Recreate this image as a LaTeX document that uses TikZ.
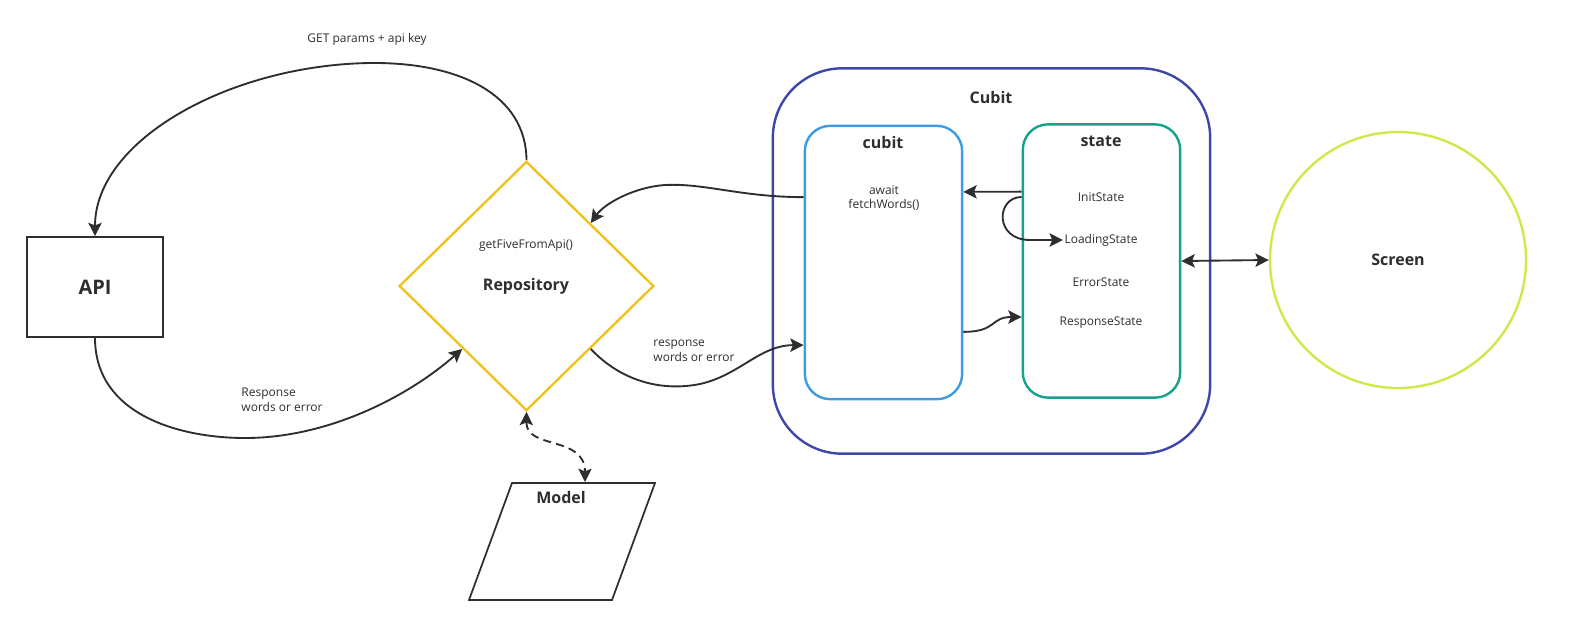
\documentclass[tikz,border=0pt]{standalone}
\usepackage{fontspec}
\setmainfont{Open Sans}
\usetikzlibrary{arrows.meta,shapes.geometric}
\definecolor{inkgray}{HTML}{2E2E2E}
\definecolor{cubitnavy}{HTML}{3E46A6}
\definecolor{cubitblue}{HTML}{3D9BE2}
\definecolor{stategreen}{HTML}{16A28A}
\definecolor{screenlime}{HTML}{CFE84A}
\definecolor{repoyellow}{HTML}{F1C21E}
\tikzset{
  small text/.style={font=\fontsize{9}{11}\selectfont, text=inkgray, inner sep=1pt, align=center},
  title text/.style={font=\fontsize{12}{14}\selectfont\bfseries, text=inkgray, inner sep=1pt},
  flow/.style={draw=inkgray, line width=1.4pt, -{Stealth[length=10pt,width=10pt,inset=2pt]}},
  flow both/.style={flow, {Stealth[length=10pt,width=10pt,inset=2pt]}-{Stealth[length=10pt,width=10pt,inset=2pt]}},
  apibox/.style={draw=inkgray, line width=1.3pt, minimum width=102pt, minimum height=75pt,
    font=\fontsize{15}{17}\selectfont\bfseries, text=inkgray},
  repo shape/.style={diamond, draw=repoyellow, line width=1.8pt, inner sep=0pt,
    minimum width=191pt, minimum height=187pt},
  outer group/.style={draw=cubitnavy, line width=1.8pt, rounded corners=52pt,
    minimum width=328pt, minimum height=289pt},
  inner group/.style={line width=1.8pt, rounded corners=19pt,
    minimum width=118pt, minimum height=205pt}
}
\begin{document}
\begin{tikzpicture}[x=0.75pt, y=-0.75pt]
    \useasboundingbox (0,0) rectangle (1578,633);
    \node[apibox] (api) at (95,287) {API};
    \node[repo shape] (repo) at (526.5,286) {};
    \node[small text] (getfive) at (526,246) {getFiveFromApi()};
    \node[title text] (repolabel) at (526,286) {Repository};
    \draw[draw=inkgray, line width=1.3pt] (512,483) -- (655,483) -- (612,600) -- (469,600) -- cycle;
    \coordinate (modeltop) at (585,482);
    \node[title text] (modellabel) at (561,497) {Model};

    \node[outer group] (cubitgroup) at (991.5,261) {};
    \node[title text] (cubittitle) at (991,97) {Cubit};
    \node[inner group, draw=cubitblue] (cubit) at (883.5,262.5) {};
    \node[title text] (cubitname) at (883,142) {cubit};
    \node[small text] (fetch) at (884,198) {await\\fetchWords()};
    \node[inner group, draw=stategreen] (state) at (1101.5,261) {};
    \node[title text] (statename) at (1101,141) {state};
    \node[small text] (init) at (1101,197) {InitState};
    \node[small text] (loading) at (1101,240) {LoadingState};
    \node[small text] (error) at (1101,282) {ErrorState};
    \node[small text] (response) at (1101,323) {ResponseState};

    \node[circle, draw=screenlime, line width=1.8pt, minimum size=192pt] (screen) at (1398,260) {};
    \node[title text] (screenlabel) at (1398,260) {Screen};

    % repository <-> api
    \node[small text] (getlabel) at (367,39) {GET params + api key};
    \draw[flow] (repo.north) .. controls (526,95) and (460,62) .. (370,63)
        .. controls (230,65) and (95,140) .. (api.north);
    \node[small text, align=left] (resplabel) at (282,400) {Response\\words or error};
    \draw[flow] (api.south) .. controls (95,415) and (180,438) .. (245,438)
        .. controls (330,438) and (410,395) .. (repo.south west);

    % cubit <-> repository
    \draw[flow] ([yshift=49pt]cubit.west) .. controls (740,197) and (705,183) .. (665,185)
        .. controls (635,187) and (605,203) .. (repo.north east);
    \node[small text, align=left] (cubitresp) at (694,351) {response\\words or error};
    \draw[flow] (repo.south east) .. controls (620,380) and (660,392) .. (700,384)
        .. controls (740,375) and (760,345) .. ([yshift=-62pt]cubit.west);

    % cubit <-> state
    \draw[flow] ([yshift=52pt]state.west) -- ([yshift=53pt]cubit.east);
    \draw[flow] ([yshift=48pt]state.west) .. controls (996,197) and (994,240) .. (1030,240) -- (loading.west);
    \draw[flow] ([yshift=-52pt]cubit.east) .. controls (997,332) and (990,317) .. ([yshift=-42pt]state.west);

    \draw[flow both] (state.east) -- (screen.west);
    \draw[flow both, dash pattern=on 6pt off 4pt] (repo.south) .. controls (526,450) and (585,435) .. (modeltop);
\end{tikzpicture}
\end{document}
